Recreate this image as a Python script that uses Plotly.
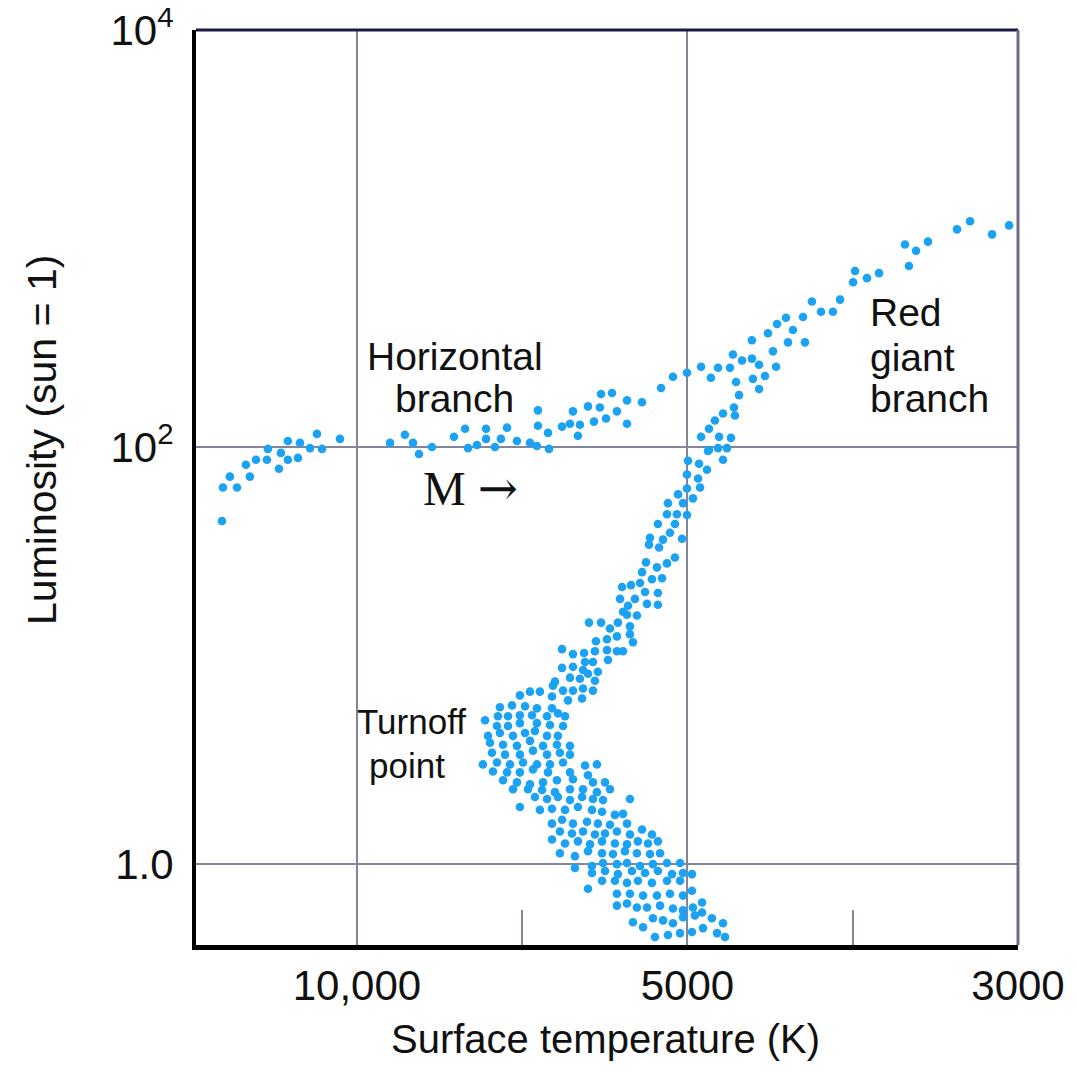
import numpy as np
import plotly.graph_objects as go

# Temperature axis positions: 0 -> 10,000 K, 2 -> 5000 K, 4 -> 3000 K
temp_tick_pos = [0, 2, 4]
temp_tick_labels = ["10,000", "5000", "3000"]
temp_minor_pos = [1, 3]
lum_tick_vals = [1, 100, 10000]
lum_tick_labels = ["1.0", "10<sup>2</sup>", "10<sup>4</sup>"]

# Horizontal branch
hb_pos = [-0.817, -0.811, -0.726, -0.769, -0.648, -0.672, -0.611, -0.545, -0.472, -0.460, -0.418, -0.357, -0.539,
          -0.418, -0.345, -0.284, -0.212, -0.242, -0.103,
          0.200, 0.290, 0.339, 0.375, 0.454, 0.587, 0.654, 0.672, 0.726, 0.781, 0.781, 0.835, 0.871, 0.908, 0.968,
          1.047, 1.095, 1.095, 1.089, 1.156, 1.162, 1.241, 1.289, 1.349, 1.337, 1.307, 1.398, 1.470, 1.434, 1.507,
          1.573, 1.477, 1.543, 1.634, 1.634, 1.725]
hb_log_lum = [1.645, 1.806, 1.806, 1.858, 1.858, 1.915, 1.939, 1.939, 1.896, 1.972, 1.939, 1.948, 1.991,
              2.029, 2.020, 1.995, 1.991, 2.063, 2.039,
              2.020, 2.059, 2.020, 1.967, 2.000, 2.049, 2.088, 1.995, 2.010, 2.088, 2.039, 2.000, 2.039, 2.093, 2.029,
              2.020, 2.176, 2.102, 2.005, 2.068, 1.991, 2.098, 2.112, 2.107, 2.054, 2.171, 2.195, 2.190, 2.122, 2.137,
              2.171, 2.254, 2.259, 2.224, 2.112, 2.215]

# Red giant branch
rgb_pos = [1.840, 1.912, 1.997, 2.082, 2.142, 2.185, 2.257, 2.275, 2.330, 2.390, 2.390, 2.294, 2.396, 2.433, 2.312,
           2.281, 2.287, 2.215, 2.166, 2.130, 2.082, 2.191, 2.263, 2.130, 2.185, 2.239, 2.215, 2.003, 2.070,
           3.946, 3.843, 3.710, 3.631, 3.455, 3.383, 3.316, 3.340, 3.159, 3.086, 3.014, 3.002, 2.923, 2.880, 2.808,
           2.753, 2.699, 2.638, 2.596, 2.542, 2.487, 2.608, 2.711, 2.517, 2.536, 2.469, 2.433,
           2.124, 2.118, 1.997, 2.064, 1.997, 2.076, 1.943, 2.033, 1.973, 1.882, 1.876, 1.936, 1.997, 1.821, 1.924,
           1.894, 1.773, 1.967, 1.767, 1.852, 1.828, 1.924, 1.876, 1.749, 1.815, 1.725]
rgb_log_lum = [2.283, 2.337, 2.356, 2.385, 2.332, 2.380, 2.380, 2.444, 2.415, 2.424, 2.512, 2.312, 2.327, 2.278, 2.249,
               2.190, 2.151, 2.161, 2.127, 2.088, 2.049, 2.049, 2.044, 1.986, 1.995, 1.995, 1.939, 1.934, 1.920,
               3.063, 3.020, 3.083, 3.044, 2.985, 2.941, 2.971, 2.868, 2.834, 2.810, 2.844, 2.790, 2.707, 2.649, 2.649,
               2.698, 2.624, 2.561, 2.620, 2.590, 2.546, 2.502, 2.502, 2.459, 2.385, 2.341, 2.395,
               1.981, 1.891, 1.868, 1.849, 1.801, 1.806, 1.773, 1.754, 1.731, 1.731, 1.678, 1.678, 1.674, 1.631, 1.631,
               1.589, 1.565, 1.560, 1.532, 1.556, 1.518, 1.470, 1.442, 1.447, 1.423, 1.400]

# Subgiant branch
sg_pos = [1.785, 1.846, 1.713, 1.604, 1.658, 1.743, 1.821, 1.592, 1.682, 1.755, 1.821, 1.640, 1.610, 1.634, 1.694,
          1.404, 1.477, 1.579, 1.531, 1.652, 1.652, 1.670, 1.446, 1.513, 1.573, 1.241, 1.307, 1.374, 1.440, 1.513,
          1.573, 1.610, 1.519, 1.428, 1.380, 1.241, 1.307, 1.368, 1.398, 1.458, 1.289, 1.349, 1.440, 1.198, 1.247,
          1.307, 1.368, 1.047, 1.107]
sg_log_lum = [1.366, 1.371, 1.348, 1.329, 1.338, 1.305, 1.300, 1.272, 1.272, 1.248, 1.244, 1.239, 1.210, 1.196, 1.192,
              1.158, 1.158, 1.158, 1.130, 1.140, 1.102, 1.064, 1.069, 1.078, 1.092, 1.031, 1.007, 1.012, 1.021, 1.026,
              1.021, 1.021, 0.979, 0.969, 0.969, 0.941, 0.946, 0.931, 0.913, 0.922, 0.894, 0.889, 0.879, 0.875, 0.832,
              0.832, 0.842, 0.827, 0.827]

# Turnoff and main sequence
ms_pos = [1.186, 1.428, 0.986, 1.180, 1.277, 1.362, 0.865, 0.938, 1.017, 1.089, 1.180,
          0.775, 0.853, 0.914, 0.986, 1.059, 1.150, 1.216, 1.259,
          0.847, 0.914, 0.986, 1.089, 1.168, 1.247,
          0.793, 0.865, 0.944, 1.017, 1.077, 1.150, 1.216,
          0.805, 0.884, 0.968, 1.047, 1.126, 1.210, 1.289,
          0.817, 0.896, 0.986, 1.065, 1.150, 1.228, 1.289,
          0.762, 0.847, 0.926, 1.005, 1.089, 1.168, 1.247, 1.380, 1.452,
          0.823, 0.908, 0.986, 1.065, 1.156, 1.289, 1.398,
          0.884, 0.968, 1.047, 1.126, 1.210, 1.307, 1.428, 1.501,
          0.944, 1.035, 1.120, 1.198, 1.289, 1.368, 1.452, 1.531,
          1.077, 1.150, 1.216, 1.289, 1.362, 1.428, 1.489, 1.652,
          0.986, 1.107, 1.180, 1.259, 1.337, 1.422, 1.483, 1.561, 1.610,
          1.180, 1.241, 1.307, 1.392, 1.458, 1.531, 1.634,
          1.228, 1.301, 1.368, 1.440, 1.501, 1.573, 1.652, 1.725, 1.785,
          1.180, 1.259, 1.337, 1.410, 1.483, 1.561, 1.634, 1.700, 1.761, 1.821,
          1.228, 1.319, 1.398, 1.483, 1.549, 1.622, 1.694, 1.773, 1.834,
          1.319, 1.422, 1.489, 1.573, 1.634, 1.713, 1.791, 1.876, 1.955,
          1.422, 1.501, 1.579, 1.664, 1.743, 1.821, 1.906, 1.973, 2.027,
          1.483, 1.561, 1.634, 1.700, 1.785, 1.876, 1.955,
          1.398, 1.573, 1.652, 1.731, 1.815, 1.894, 1.973, 2.027,
          1.573, 1.634, 1.694, 1.755, 1.834, 1.912, 1.973, 2.033, 2.088,
          1.670, 1.731, 1.791, 1.852, 1.912, 1.973, 2.045, 2.088, 2.148, 2.215,
          1.803, 1.882, 1.955, 2.027, 2.094, 2.179, 2.227]
ms_log_lum = [0.856, 0.832, 0.809, 0.804, 0.785, 0.794, 0.752, 0.761, 0.757, 0.747, 0.747,
              0.690, 0.709, 0.709, 0.714, 0.714, 0.709, 0.723, 0.709,
              0.662, 0.662, 0.676, 0.676, 0.667, 0.662,
              0.615, 0.629, 0.615, 0.629, 0.638, 0.615, 0.615,
              0.582, 0.572, 0.567, 0.591, 0.567, 0.572, 0.567,
              0.534, 0.525, 0.525, 0.544, 0.525, 0.534, 0.525,
              0.478, 0.487, 0.478, 0.487, 0.478, 0.478, 0.487, 0.473, 0.478,
              0.444, 0.440, 0.440, 0.454, 0.440, 0.440, 0.426,
              0.402, 0.392, 0.383, 0.392, 0.402, 0.407, 0.392, 0.392,
              0.359, 0.359, 0.355, 0.345, 0.359, 0.359, 0.345, 0.359,
              0.322, 0.312, 0.322, 0.307, 0.322, 0.312, 0.307, 0.312,
              0.274, 0.260, 0.265, 0.260, 0.274, 0.260, 0.251, 0.236, 0.241,
              0.194, 0.213, 0.194, 0.203, 0.194, 0.189, 0.194,
              0.156, 0.147, 0.156, 0.142, 0.147, 0.156, 0.142, 0.166, 0.142,
              0.118, 0.099, 0.109, 0.095, 0.109, 0.099, 0.095, 0.109, 0.099, 0.109,
              0.052, 0.038, 0.062, 0.052, 0.048, 0.062, 0.052, 0.048, 0.052,
              -0.019, -0.009, 0.005, 0.000, 0.005, -0.009, 0.000, 0.005, 0.005,
              -0.043, -0.033, -0.048, -0.033, -0.043, -0.033, -0.048, -0.043, -0.048,
              -0.080, -0.080, -0.090, -0.080, -0.090, -0.080, -0.080,
              -0.118, -0.142, -0.142, -0.151, -0.151, -0.142, -0.151, -0.128,
              -0.199, -0.189, -0.208, -0.208, -0.199, -0.213, -0.222, -0.208, -0.184,
              -0.279, -0.303, -0.260, -0.270, -0.284, -0.255, -0.246, -0.232, -0.260, -0.284,
              -0.350, -0.340, -0.331, -0.326, -0.307, -0.331, -0.350]

DOT = "#1ca2f2"
FONT = "Liberation Sans, Arial, sans-serif"
INK = "#111111"

fig = go.Figure()
for xs, ls in [(hb_pos, hb_log_lum), (rgb_pos, rgb_log_lum), (sg_pos, sg_log_lum), (ms_pos, ms_log_lum)]:
    fig.add_trace(go.Scatter(
        x=xs, y=np.power(10.0, np.array(ls)), mode="markers",
        marker=dict(color=DOT, size=8.6, line=dict(width=0)),
        showlegend=False, hoverinfo="skip"))

GRID = "#85859a"
# page body has an 8px default margin; the figure is sized so the plot box lands at x 196-1018, y 30-945
fig.update_layout(
    width=1061, height=1055,
    margin=dict(l=188, r=51, t=22, b=118, autoexpand=False),
    paper_bgcolor="white", plot_bgcolor="white",
    font=dict(family=FONT, color=INK),
    xaxis=dict(range=[-0.974, 4.0], tickmode="array", tickvals=temp_tick_pos, ticktext=temp_tick_labels,
               showgrid=True, gridcolor=GRID, gridwidth=2, zeroline=False, automargin=False,
               showline=True, linecolor="black", linewidth=5, ticks="", ticklabelstandoff=0,
               ticklabeloverflow="allow",
               tickfont=dict(size=42, family=FONT, color=INK),
               minor=dict(tickmode="array", tickvals=temp_minor_pos, ticks="inside", ticklen=35,
                          tickwidth=2, tickcolor=GRID, showgrid=False)),
    yaxis=dict(type="log", range=[-0.388, 4.0], tickmode="array", tickvals=lum_tick_vals, ticktext=lum_tick_labels,
               showgrid=True, gridcolor=GRID, gridwidth=2, zeroline=False, automargin=False,
               showline=True, linecolor="black", linewidth=4, ticks="", ticklabelstandoff=10,
               ticklabeloverflow="allow",
               tickfont=dict(size=42, family=FONT, color=INK)),
    shapes=[
        dict(type="line", xref="paper", yref="paper", x0=0, x1=1, y0=1, y1=1,
             line=dict(color="#1a1a40", width=3)),
        dict(type="line", xref="paper", yref="paper", x0=1, x1=1, y0=0, y1=1,
             line=dict(color="#6c6c88", width=3)),
    ],
)

SERIF = "Liberation Serif, Times New Roman, serif"
ann = [
    dict(text="Horizontal", x=0.593, y=2.434, xanchor="center", size=39, fam=FONT),
    dict(text="branch", x=0.593, y=2.235, xanchor="center", size=39, fam=FONT),
    dict(text="Red", x=3.092, y=2.644, xanchor="left", size=39, fam=FONT),
    dict(text="giant", x=3.092, y=2.430, xanchor="left", size=39, fam=FONT),
    dict(text="branch", x=3.092, y=2.235, xanchor="left", size=39, fam=FONT),
    dict(text="Turnoff", x=0.333, y=0.686, xanchor="center", size=35, fam=FONT),
    dict(text="point", x=0.300, y=0.473, xanchor="center", size=35, fam=FONT),
    dict(text="M <span style=\"font-family:'DejaVu Serif'\">\u2192</span>", x=0.684, y=1.802,
         xanchor="center", size=48, fam=SERIF),
]
for a in ann:
    fig.add_annotation(text=a["text"], x=a["x"], y=a["y"], xref="x", yref="y",
                       xanchor=a["xanchor"], yanchor="middle", showarrow=False,
                       font=dict(size=a["size"], family=a["fam"], color=INK))

fig.add_annotation(text="Surface temperature (K)", xref="paper", yref="paper", x=0.4976, y=-0.1027,
                   xanchor="center", yanchor="middle", showarrow=False,
                   font=dict(size=40, family=FONT, color=INK))
fig.add_annotation(text="Luminosity (sun = 1)", xref="paper", yref="paper", x=-0.1873, y=0.552,
                   xanchor="center", yanchor="middle", showarrow=False, textangle=-90,
                   font=dict(size=41, family=FONT, color=INK))

fig.write_html("out.html")
